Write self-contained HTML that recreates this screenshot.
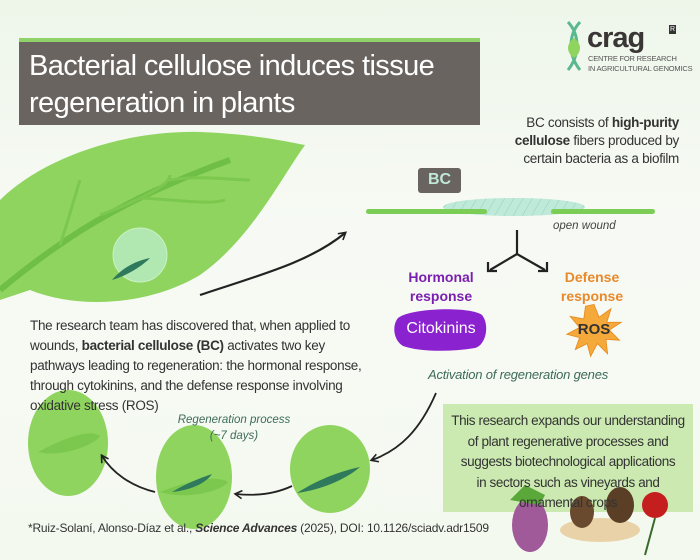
<!DOCTYPE html>
<html><head><meta charset="utf-8"><style>
body{margin:0;width:700px;height:560px;overflow:hidden;font-family:"Liberation Sans",sans-serif;}
#c{position:relative;width:700px;height:560px;background:linear-gradient(180deg,#eef6ea 0%,#f7faf4 40%,#f4f9f0 100%);}
.t{position:absolute;white-space:nowrap;}
</style></head><body><div id="c">
<svg width="700" height="560" style="position:absolute;left:0;top:0">
<defs>
<pattern id="h" width="8" height="8" patternUnits="userSpaceOnUse" patternTransform="rotate(30)"><rect width="8" height="8" fill="#bfe9d8"/><line x1="0" y1="0" x2="0" y2="8" stroke="#8fd4bc" stroke-width="1"/></pattern>
<marker id="ar" markerWidth="10" markerHeight="10" refX="7" refY="5" orient="auto" markerUnits="userSpaceOnUse"><path d="M1,1 L8,5 L1,9" fill="none" stroke="#222" stroke-width="1.6"/></marker>
</defs>
<rect x="19" y="38" width="461" height="87" fill="#6a6461"/>
<rect x="19" y="38" width="461" height="4" fill="#8fd26a"/>
<path d="M0,300 L0,200 C40,160 120,130 200,132 C250,134 280,140 305,145 C280,180 250,240 200,275 C150,305 80,310 30,290 Z" fill="#8fd45e"/>
<path d="M0,290 C60,240 120,200 230,160" stroke="#6fbf45" stroke-width="6" fill="none"/>
<path d="M100,215 C140,200 170,185 170,175 M140,198 C180,200 210,205 225,200 M60,245 C70,215 75,195 80,180 M170,180 C200,175 230,180 250,180" stroke="#7cc84e" stroke-width="3" fill="none"/>
<circle cx="140" cy="255" r="27" fill="#b8ecc0" opacity="0.85" stroke="#d4f5d5"/>
<path d="M112,280 C125,265 140,260 150,258 C140,268 125,276 112,280Z" fill="#2f7a5c"/>
<path d="M200,295 C260,275 310,262 345,233" stroke="#222" stroke-width="2.2" fill="none" marker-end="url(#ar)"/>
<rect x="418" y="168" width="43" height="25" rx="3" fill="#6a6461"/>
<ellipse cx="514" cy="207" rx="71" ry="9" fill="url(#h)"/>
<rect x="366" y="209" width="121" height="5" rx="2.5" fill="#7ccd55"/>
<rect x="551" y="209" width="104" height="5" rx="2.5" fill="#7ccd55"/>
<path d="M517,230 L517,254 M517,254 L490,270 M517,254 L545,270" stroke="#222" stroke-width="2.2" fill="none"/>
<path d="M488,262 L488,271 L497,271 M547,262 L547,271 L538,271" stroke="#222" stroke-width="2.2" fill="none"/>
<path d="M398,318 C410,308 470,306 482,315 C490,325 486,345 475,348 C450,352 420,352 403,346 C393,340 392,325 398,318Z" fill="#8b22d0"/>
<g transform="translate(594,330) scale(0.85) translate(-594,-327)">
<polygon points="594,297 600,312 614,302 609,318 626,318 612,327 624,339 608,338 610,355 598,343 590,358 586,343 572,350 577,336 562,332 577,324 566,311 582,314 584,299" fill="#f5a93a" stroke="#e88a1c" stroke-width="1"/></g>
<ellipse cx="68" cy="443" rx="40" ry="53" fill="#8fd45e"/>
<path d="M38,452 C60,440 90,428 100,436 C95,445 60,458 38,452Z" fill="#7cc84e"/>
<ellipse cx="194" cy="477" rx="38" ry="52" fill="#8fd45e"/>
<path d="M160,492 C185,482 215,474 228,482 C220,492 185,500 160,492Z" fill="#7cc84e"/>
<path d="M172,492 C185,484 200,478 212,474 C205,484 190,490 172,492Z" fill="#2f7a5c"/>
<ellipse cx="330" cy="469" rx="40" ry="44" fill="#8fd45e"/>
<path d="M297,493 C320,478 345,470 360,467 C345,480 320,490 297,493Z" fill="#2f7a5c"/>
<path d="M436,393 C420,430 400,450 372,460" stroke="#222" stroke-width="1.8" fill="none" marker-end="url(#ar)"/>
<path d="M292,486 C275,494 255,496 236,494" stroke="#222" stroke-width="1.8" fill="none" marker-end="url(#ar)"/>
<path d="M155,492 C130,486 112,472 102,456" stroke="#222" stroke-width="1.8" fill="none" marker-end="url(#ar)"/>
<rect x="443" y="404" width="250" height="108" fill="#c3e6a6" opacity="0.85"/>
<ellipse cx="530" cy="525" rx="18" ry="27" fill="#a05a9a"/>
<path d="M510,500 L525,485 L545,495 L540,505Z" fill="#5aa83a"/>
<ellipse cx="600" cy="530" rx="40" ry="12" fill="#e9d2a8"/>
<ellipse cx="582" cy="512" rx="12" ry="16" fill="#6a4a2e"/>
<ellipse cx="620" cy="505" rx="14" ry="18" fill="#5a3e26"/>
<circle cx="655" cy="505" r="13" fill="#c41e1e"/>
<path d="M655,518 L645,555" stroke="#3a6a2a" stroke-width="2"/>
<path d="M568,22 C580,35 580,55 568,70 M580,22 C568,35 568,55 580,70" stroke="#5ab890" stroke-width="3" fill="none"/>
<path d="M574,38 C582,44 582,52 574,58 C566,52 566,44 574,38Z" fill="#8fd45e"/>
</svg>
<div class="t" style="left:29px;top:48px;font-size:29px;line-height:37px;color:#fff;letter-spacing:-0.6px">Bacterial cellulose induces tissue<br>regeneration in plants</div>
<div class="t" style="left:587px;top:22px;font-size:29px;font-weight:bold;color:#3a3636;letter-spacing:-1px">crag</div>
<div class="t" style="left:669px;top:25px;width:7px;height:9px;background:#333;color:#fff;font-size:7px;text-align:center;line-height:9px">R</div>
<div class="t" style="left:588px;top:54px;font-size:7.5px;line-height:9.5px;color:#555;letter-spacing:-0.2px">CENTRE FOR RESEARCH<br>IN AGRICULTURAL GENOMICS</div>
<div class="t" style="right:21px;top:114px;font-size:13.5px;line-height:18px;color:#333;text-align:right;letter-spacing:-0.3px">BC consists of <b>high-purity</b><br><b>cellulose</b> fibers produced by<br>certain bacteria as a biofilm</div>
<div class="t" style="left:418px;top:171px;width:43px;text-align:center;font-size:16px;font-weight:bold;color:#bfe9d8">BC</div>
<div class="t" style="left:553px;top:220px;font-size:11.5px;font-style:italic;color:#444">open wound</div>
<div class="t" style="left:391px;top:268px;width:100px;text-align:center;font-size:14px;line-height:19px;font-weight:bold;color:#7b1fb0">Hormonal<br>response</div>
<div class="t" style="left:542px;top:268px;width:100px;text-align:center;font-size:14px;line-height:19px;font-weight:bold;color:#e8892b">Defense<br>response</div>
<div class="t" style="left:396px;top:320px;width:90px;text-align:center;font-size:16px;color:#fff">Citokinins</div>
<div class="t" style="left:574px;top:321px;width:40px;text-align:center;font-size:15px;font-weight:bold;color:#333">ROS</div>
<div class="t" style="left:418px;top:367px;width:200px;text-align:center;font-size:13px;font-style:italic;color:#3d6b5a;letter-spacing:-0.2px">Activation of regeneration genes</div>
<div class="t" style="left:30px;top:316px;font-size:13.5px;line-height:20px;color:#333;letter-spacing:-0.3px">The research team has discovered that, when applied to<br>wounds, <b>bacterial cellulose (BC)</b> activates two key<br>pathways leading to regeneration: the hormonal response,<br>through cytokinins, and the defense response involving<br>oxidative stress (ROS)</div>
<div class="t" style="left:164px;top:412px;width:140px;text-align:center;font-size:11.5px;line-height:16px;font-style:italic;color:#3d6b5a">Regeneration process<br>(~7 days)</div>
<div class="t" style="left:443px;top:411px;width:250px;text-align:center;font-size:13.5px;line-height:20.5px;color:#333;letter-spacing:-0.4px">This research expands our understanding<br>of plant regenerative processes and<br>suggests biotechnological applications<br>in sectors such as vineyards and<br>ornamental crops</div>
<div class="t" style="left:28px;top:521px;font-size:12px;color:#333;letter-spacing:-0.2px">*Ruiz-Solaní, Alonso-Díaz et al., <b><i>Science Advances</i></b> (2025), DOI: 10.1126/sciadv.adr1509</div>
</div></body></html>
